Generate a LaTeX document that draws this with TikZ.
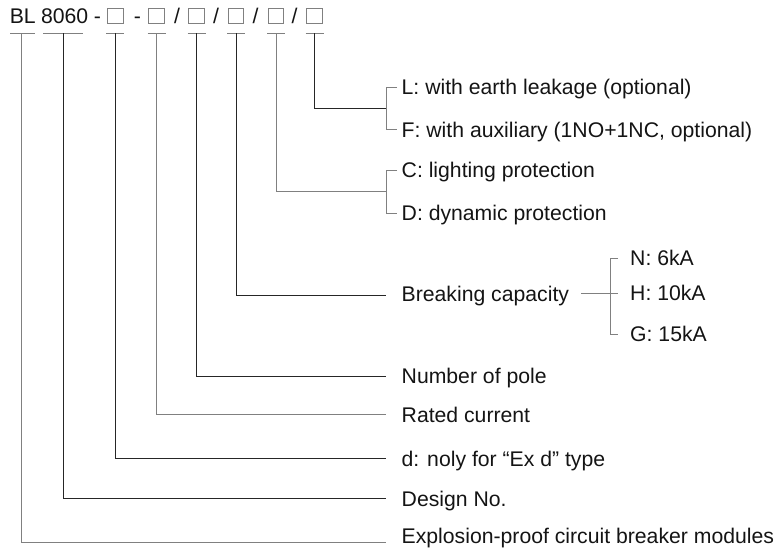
\documentclass[tikz,border=0pt]{standalone}
\usepackage{fontspec}
\setmainfont{Liberation Sans}
\begin{document}
\begin{tikzpicture}[x=1pt,y=-1pt,
  lbl/.style={anchor=base west, inner sep=0pt, font=\fontsize{21.2}{25}\selectfont, text=black!92},
  hd/.style={anchor=base, inner sep=0pt, font=\fontsize{21.2}{25}\selectfont, text=black!92},
  sq/.style={draw=black!50, line width=0.8pt, minimum width=15.5pt, minimum height=15pt, inner sep=0pt},
  gl/.style={draw=black!50, line width=1pt},
  bk/.style={draw=black!85, line width=1pt}]
\useasboundingbox (0,0) rectangle (778,549);

% ---- header code ----
\node[hd] (bl) at (22.8,23) {BL};
\node[hd] (n8060) at (64.6,23) {8060};
\node[hd] (m1) at (97.5,23) {-};
\node[sq] (s1) at (115.3,15.8) {};
\node[hd] (m2) at (137.5,23) {-};
\node[sq] (s2) at (156.5,15.8) {};
\node[hd] (sl1) at (177,23) {/};
\node[sq] (s3) at (196.5,15.8) {};
\node[hd] (sl2) at (216,23) {/};
\node[sq] (s4) at (236,15.8) {};
\node[hd] (sl3) at (255.5,23) {/};
\node[sq] (s5) at (276,15.8) {};
\node[hd] (sl4) at (294.5,23) {/};
\node[sq] (s6) at (314.5,15.8) {};

% tick coordinates under each part
\coordinate (tBL) at (21.8,33.3);
\coordinate (tN) at (63,33.3);
\coordinate (t1) at (s1 |- 0,33.3);
\coordinate (t2) at (s2 |- 0,33.3);
\coordinate (t3) at (s3 |- 0,33.3);
\coordinate (t4) at (s4 |- 0,33.3);
\coordinate (t5) at (s5 |- 0,33.3);
\coordinate (t6) at (s6 |- 0,33.3);

\draw[gl] (10,33.3) -- (35,33.3);
\draw[gl] (43,33.3) -- (83,33.3);
\foreach \t in {t1,t2,t3,t4,t5,t6}
  \draw[gl] (\t) ++(-9,0) -- ++(18,0);

% ---- labels ----
\node[lbl] (L) at (401.5,94.5) {L: with earth leakage (optional)};
\node[lbl] (F) at (401.5,137) {F: with auxiliary (1NO+1NC, optional)};
\node[lbl] (C) at (401.5,177.5) {C: lighting protection};
\node[lbl] (D) at (401.5,220.5) {D: dynamic protection};
\node[lbl] (BC) at (401.5,301.5) {Breaking capacity};
\node[lbl] (N) at (630,265.5) {N: 6kA};
\node[lbl] (H) at (630,300.5) {H: 10kA};
\node[lbl] (G) at (630,341.5) {G: 15kA};
\node[lbl] (NP) at (401.5,383.5) {Number of pole};
\node[lbl] (RC) at (401.5,422) {Rated current};
\node[lbl] (DX) at (401.5,466) {d: noly for “Ex d” type};
\node[lbl] (DN) at (401.5,506) {Design No.};
\node[lbl] (EX) at (401.5,543) {Explosion-proof circuit breaker modules};

% ---- line end coordinates ----
\coordinate (eLF) at (386,108.3);
\coordinate (eCD) at (386,191.7);
\coordinate (eBC) at (386,295.5);
\coordinate (eNP) at (386,376);
\coordinate (eRC) at (386,414.3);
\coordinate (eDX) at (386,458.5);
\coordinate (eDN) at (386,498.5);
\coordinate (eEX) at (386,542.5);

% ---- connectors ----
\draw[bk] (t6) |- (eLF);
\draw[gl] (t5) |- (eCD);
\draw[bk] (t4) |- (eBC);
\draw[bk] (t3) |- (eNP);
\draw[gl] (t2) |- (eRC);
\draw[bk] (t1) |- (eDX);
\draw[bk] (tN) |- (eDN);
\draw[gl] (tBL) |- (eEX);

% ---- brackets ----
\coordinate (bL) at (397,87);
\coordinate (bF) at (397,129.5);
\draw[gl] (bL) -- (386,87) -- (386,129.5) -- (bF);
\coordinate (bC) at (397,170);
\coordinate (bD) at (397,213);
\draw[gl] (bC) -- (386,170) -- (386,213) -- (bD);

\coordinate (bcS) at (581,293);
\coordinate (bcE) at (618,293);
\draw[gl] (bcS) -- (bcE);
\coordinate (bN) at (618,258);
\coordinate (bG) at (618,334);
\draw[gl] (bN) -- (610,258) -- (610,334) -- (bG);
\end{tikzpicture}
\end{document}
